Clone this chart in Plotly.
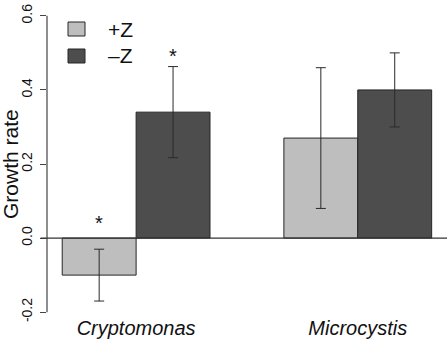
import plotly.graph_objects as go

categories = ["Cryptomonas", "Microcystis"]
series_names = ["+Z", "\u2013Z"]
plus_z = [-0.10, 0.27]
plus_z_err = [0.07, 0.19]
minus_z = [0.34, 0.40]
minus_z_err = [0.123, 0.10]
y_ticks = [-0.2, 0.0, 0.2, 0.4, 0.6]
y_tick_labels = ["-0.2", "0.0", "0.2", "0.4", "0.6"]
y_title = "Growth rate"
# significance marks: (category index, series offset, y)
star_marks = [(0, -1, 0.042), (0, 1, 0.492)]

light = "#BEBEBE"
dark = "#4D4D4D"
font = "Liberation Sans, Arial, sans-serif"

fig = go.Figure()
for name, vals, errs, col in [(series_names[0], plus_z, plus_z_err, light),
                              (series_names[1], minus_z, minus_z_err, dark)]:
    fig.add_trace(go.Bar(
        x=categories, y=vals, name=name,
        marker=dict(color=col, line=dict(color="#262626", width=1)),
        error_y=dict(type="data", array=errs, visible=True,
                     color="#2a2a2a", thickness=1, width=5),
        showlegend=False,
    ))

fig.update_layout(
    width=447, height=343,
    margin=dict(l=47, r=0, t=4, b=19),
    paper_bgcolor="white", plot_bgcolor="white",
    barmode="group", bargap=1/3, bargroupgap=0,
    font=dict(family=font, color="#111"),
    xaxis=dict(range=[-0.402, 1.4025], showline=False, showgrid=False,
               zeroline=False, ticks="", tickfont=dict(size=20, family=font),
               ticklabelstandoff=-10, automargin=False),
    yaxis=dict(range=[-0.232, 0.632], showline=False, showgrid=False,
               zeroline=False, tickvals=y_ticks, ticktext=y_tick_labels,
               ticks="outside", ticklen=6, tickcolor="#444", tickwidth=1,
               tickangle=-90, tickfont=dict(size=14, family=font),
               ticklabelstandoff=2, automargin=False),
)
fig.update_xaxes(tickmode="array", tickvals=categories,
                 ticktext=["<i>%s</i>" % c for c in categories])

# y axis title
fig.add_annotation(xref="paper", yref="paper", x=(10 - 47) / 400, y=0.5,
                   text=y_title, textangle=-90, showarrow=False,
                   xanchor="center", yanchor="middle",
                   font=dict(size=21, family=font, color="#111"))

# y axis line from -0.2 to 0.6 (R style)
fig.add_shape(type="line", xref="paper", yref="y", x0=0, x1=0,
              y0=y_ticks[0], y1=y_ticks[-1], line=dict(color="#444", width=1.2))
# zero reference line
fig.add_shape(type="line", xref="paper", yref="y", x0=-0.016, x1=1,
              y0=0, y1=0, line=dict(color="#333", width=1.2))

for ci, off, yv in star_marks:
    fig.add_annotation(x=ci + off / 6, y=yv, xref="x", yref="y", text="*",
                       showarrow=False, font=dict(size=20, family=font, color="#111"),
                       yanchor="middle")

# manual legend
legend_rows = [(series_names[0], light, 29), (series_names[1], dark, 56)]
for name, col, cy in legend_rows:
    fig.add_shape(type="rect", xref="paper", yref="paper",
                  x0=(68 - 47) / 400, x1=(85 - 47) / 400,
                  y0=(324 - (cy + 7)) / 320, y1=(324 - (cy - 7)) / 320,
                  fillcolor=col, line=dict(color="#262626", width=1))
    fig.add_annotation(xref="paper", yref="paper", x=(106 - 47) / 400,
                       y=(324 - cy) / 320, text=name, showarrow=False,
                       xanchor="left", yanchor="middle",
                       font=dict(size=21, family=font, color="#111"))

fig.write_html("out.html", config={"displayModeBar": False},
               post_script="document.body.style.margin='0';document.body.style.padding='0';")
